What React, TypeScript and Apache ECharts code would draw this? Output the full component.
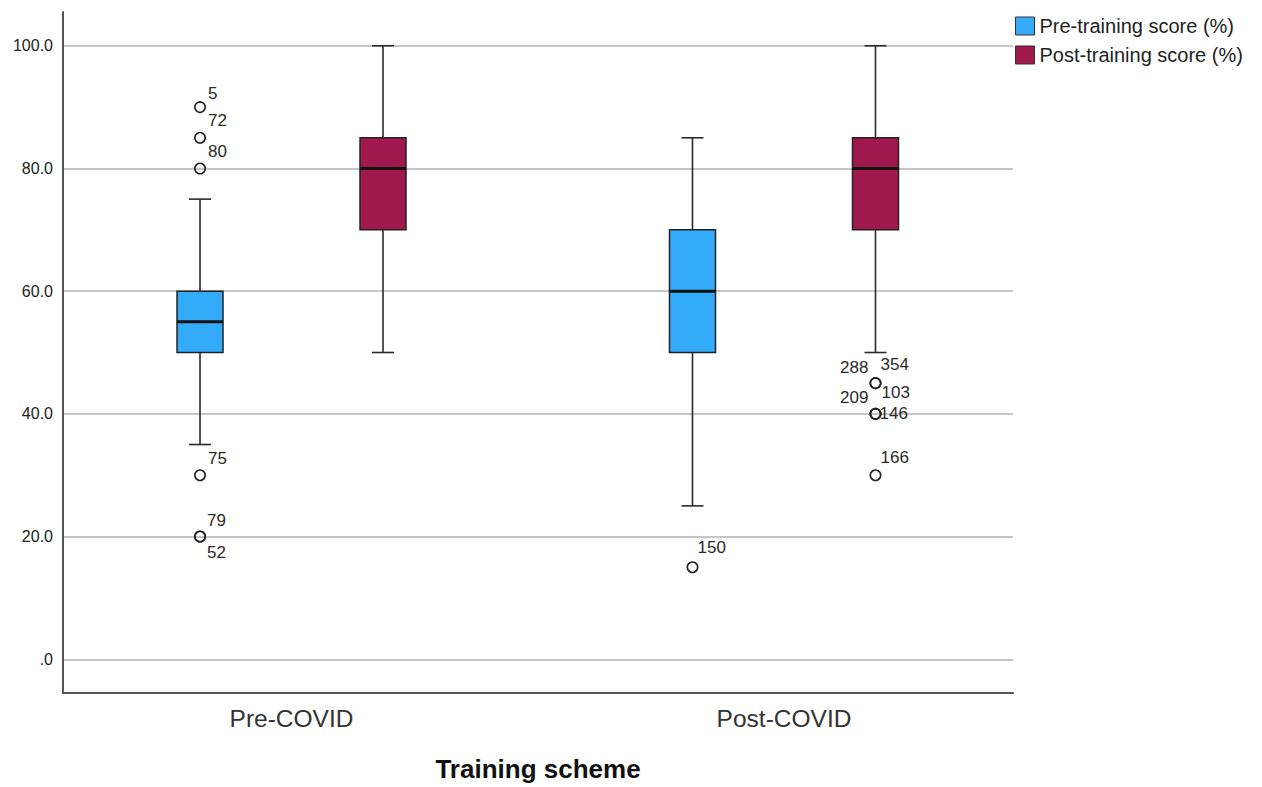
import React, { useEffect, useRef } from "react";
import * as echarts from "echarts";

// ---- data ----
const groups = ["Pre-COVID", "Post-COVID"];
const seriesNames = ["Pre-training score (%)", "Post-training score (%)"];
// [groupIndex, min, q1, median, q3, max]
const preTrainingBoxes = [
  [0, 35, 50, 55, 60, 75],
  [1, 25, 50, 60, 70, 85],
];
const postTrainingBoxes = [
  [0, 50, 70, 80, 85, 100],
  [1, 50, 70, 80, 85, 100],
];
// [groupIndex, value, case label]
const preTrainingOutliers = [
  [0, 90, "5"],
  [0, 85, "72"],
  [0, 80, "80"],
  [0, 30, "75"],
  [0, 20, "79"],
  [0, 20, "52"],
  [1, 15, "150"],
];
const postTrainingOutliers = [
  [1, 45, "288"],
  [1, 45, "354"],
  [1, 40, "103"],
  [1, 40, "209"],
  [1, 40, "146"],
  [1, 30, "166"],
];
const yTicks = [0, 20, 40, 60, 80, 100];

// ---- layout / style ----
const COLORS = ["#34abf8", "#a1184e"];
const SERIES_OFFSET_PX = [-91.5, 91.5];
const BOX_W = 46;
const CAP_W = 22;
const FONT = "'Liberation Sans', Arial, sans-serif";
// label placement relative to outlier point: [dx, dy, align]
const labelPlacement: Record<string, [number, number, string]> = {
  "5": [8, -14, "left"],
  "72": [8, -17, "left"],
  "80": [8, -17, "left"],
  "75": [8, -17, "left"],
  "79": [7, -16, "left"],
  "52": [7, 16, "left"],
  "150": [5, -20, "left"],
  "288": [-7, -16, "right"],
  "354": [5, -19, "left"],
  "103": [6, -21, "left"],
  "209": [-7, -16, "right"],
  "146": [4, 0, "left"],
  "166": [5, -18, "left"],
};

function boxRenderer(seriesIdx: number) {
  return (params: any, api: any) => {
    const g = api.value(0);
    const pMin = api.coord([g, api.value(1)]);
    const pQ1 = api.coord([g, api.value(2)]);
    const pMed = api.coord([g, api.value(3)]);
    const pQ3 = api.coord([g, api.value(4)]);
    const pMax = api.coord([g, api.value(5)]);
    const cx = pMin[0] + SERIES_OFFSET_PX[seriesIdx];
    const lineStyle = { stroke: "#2a2a2a", lineWidth: 1.6 };
    return {
      type: "group",
      children: [
        { type: "line", shape: { x1: cx, y1: pMax[1], x2: cx, y2: pQ3[1] }, style: lineStyle },
        { type: "line", shape: { x1: cx, y1: pQ1[1], x2: cx, y2: pMin[1] }, style: lineStyle },
        { type: "line", shape: { x1: cx - CAP_W / 2, y1: pMax[1], x2: cx + CAP_W / 2, y2: pMax[1] }, style: lineStyle },
        { type: "line", shape: { x1: cx - CAP_W / 2, y1: pMin[1], x2: cx + CAP_W / 2, y2: pMin[1] }, style: lineStyle },
        {
          type: "rect",
          shape: { x: cx - BOX_W / 2, y: pQ3[1], width: BOX_W, height: pQ1[1] - pQ3[1] },
          style: { fill: COLORS[seriesIdx], stroke: "#222", lineWidth: 1.5 },
        },
        {
          type: "line",
          shape: { x1: cx - BOX_W / 2, y1: pMed[1], x2: cx + BOX_W / 2, y2: pMed[1] },
          style: { stroke: "#111", lineWidth: 3 },
        },
      ],
    };
  };
}

function outlierRenderer(seriesIdx: number, source: any[]) {
  return (params: any, api: any) => {
    const item = source[params.dataIndex];
    const p = api.coord([item[0], item[1]]);
    const cx = p[0] + SERIES_OFFSET_PX[seriesIdx];
    const cy = p[1];
    const pl = labelPlacement[item[2]] || [6, -16, "left"];
    return {
      type: "group",
      children: [
        { type: "circle", shape: { cx, cy, r: 5.2 }, style: { fill: "none", stroke: "#222", lineWidth: 1.6 } },
        {
          type: "text",
          x: cx + pl[0],
          y: cy + pl[1],
          style: {
            text: item[2],
            fill: "#2a2a2a",
            font: `17px ${FONT}`,
            align: pl[2],
            verticalAlign: "middle",
          },
        },
      ],
    };
  };
}

export default function App() {
  const ref = useRef<HTMLDivElement>(null);
  useEffect(() => {
    if (!ref.current) return;
    const chart = echarts.init(ref.current, null, { renderer: "svg" });
    const boxSources = [preTrainingBoxes, postTrainingBoxes];
    const outSources = [preTrainingOutliers, postTrainingOutliers];
    const series: any[] = [];
    boxSources.forEach((src, i) => {
      series.push({
        type: "custom",
        name: seriesNames[i],
        renderItem: boxRenderer(i),
        data: src,
        encode: { x: 0, y: [1, 2, 3, 4, 5] },
        itemStyle: { color: COLORS[i] },
        clip: false,
      });
    });
    outSources.forEach((src, i) => {
      series.push({
        type: "custom",
        name: "outliers-" + i,
        renderItem: outlierRenderer(i, src),
        data: src.map((d) => [d[0], d[1]]),
        encode: { x: 0, y: 1 },
        clip: false,
      });
    });
    chart.setOption({
      animation: false,
      backgroundColor: "#ffffff",
      textStyle: { fontFamily: FONT },
      legend: {
        data: seriesNames,
        orient: "vertical",
        left: 1015,
        top: 16,
        itemWidth: 19,
        itemHeight: 18,
        itemGap: 9,
        icon: "rect",
        itemStyle: { borderColor: "#333", borderWidth: 1 },
        textStyle: { fontSize: 20, color: "#222", fontFamily: FONT },
        padding: 0,
        selectedMode: false,
      },
      grid: { left: 63, top: 12, width: 950, height: 682, containLabel: false },
      xAxis: {
        type: "value",
        min: -0.464,
        max: 1.465,
        name: "Training scheme",
        nameLocation: "middle",
        nameGap: 63,
        nameTextStyle: { fontSize: 26, fontWeight: "bold", color: "#111", fontFamily: FONT },
        axisLine: { show: true, onZero: false, lineStyle: { color: "#555", width: 2 } },
        axisTick: { show: false, customValues: [0, 1] },
        splitLine: { show: false },
        axisLabel: {
          customValues: [0, 1],
          formatter: (v: number) => groups[Math.round(v)] ?? "",
          fontSize: 24.5,
          color: "#333",
          margin: 13,
          fontFamily: FONT,
        },
      },
      yAxis: {
        type: "value",
        min: -5.5,
        max: 105.5,
        axisLine: { show: true, onZero: false, lineStyle: { color: "#555", width: 2 } },
        axisTick: { show: false, customValues: yTicks },
        splitLine: { show: true, lineStyle: { color: "#c6c6c6", width: 2 } },
        axisLabel: {
          customValues: yTicks,
          formatter: (v: number) => (v === 0 ? ".0" : v.toFixed(1)),
          fontSize: 16,
          color: "#222",
          margin: 10,
          fontFamily: FONT,
        },
      },
      series,
    });
    return () => chart.dispose();
  }, []);
  return (
    <div
      ref={ref}
      style={{ position: "fixed", left: 0, top: 0, width: 1262, height: 787, background: "#fff" }}
    />
  );
}
